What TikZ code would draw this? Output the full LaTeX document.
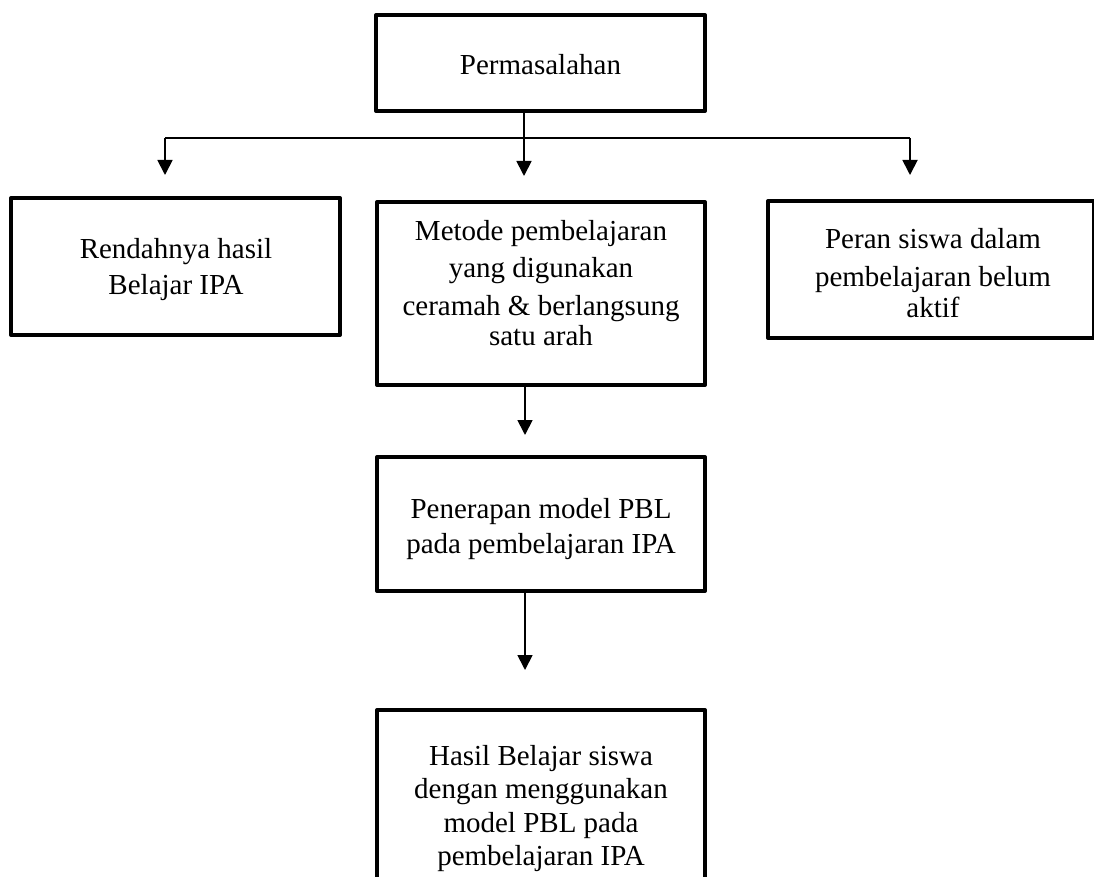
\documentclass[tikz,border=0pt]{standalone}
\usepackage{fontspec}
\setmainfont{Liberation Serif}
\usetikzlibrary{arrows.meta}
\begin{document}
\begin{tikzpicture}[x=1pt,y=-1pt,
  box/.style={draw, line width=4pt, line join=round, inner sep=0pt},
  txt/.style={anchor=north, inner sep=0pt, align=center},
  conn/.style={line width=1.8pt},
  thinconn/.style={line width=1.2pt},
  arr/.style={conn, -{Triangle[length=15pt,width=15pt]}}]
\useasboundingbox (0,0) rectangle (1094,877);
\fill[white] (0,0) rectangle (1094,877);
\clip (0,0) rectangle (1094,877);
% boxes
\node[box, minimum width=329pt, minimum height=96pt] (top) at (540.5,63) {};
\node[box, minimum width=329pt, minimum height=137pt] (left) at (175.5,266.5) {};
\node[box, minimum width=328pt, minimum height=183pt] (mid) at (541,293.5) {};
\node[box, minimum width=326pt, minimum height=137pt] (right) at (931,269.5) {};
\node[box, minimum width=328pt, minimum height=134pt] (pbl) at (541,524) {};
\node[box, minimum width=328pt, minimum height=175pt] (hasil) at (541,797.5) {};
% texts
\node[txt, font=\fontsize{29}{36}\selectfont] (t0) at (540.5,54) {Permasalahan};
\node[txt, font=\fontsize{29}{36}\selectfont] (t1) at (176,238) {Rendahnya hasil\\Belajar IPA};
\node[txt, font=\fontsize{29}{37.5}\selectfont] (t2) at (541,220) {Metode pembelajaran\\yang digunakan\\ceramah \& berlangsung\\[-7pt]satu arah};
\node[txt, font=\fontsize{29}{38}\selectfont] (t3) at (933,228) {Peran siswa dalam\\pembelajaran belum\\[-7pt]aktif};
\node[txt, font=\fontsize{29}{35}\selectfont] (t4) at (541,498) {Penerapan model PBL\\pada pembelajaran IPA};
\node[txt, font=\fontsize{29}{33.5}\selectfont] (t5) at (541,745) {Hasil Belajar siswa\\dengan menggunakan\\model PBL pada\\pembelajaran IPA};
% connectors
\coordinate (j) at (524,138);
\coordinate (aL) at (165,138);
\coordinate (aR) at (910,138);
\coordinate (vx) at (525,0);
\draw[conn] (top.south -| j) -- (j);
\draw[thinconn] (aL) -- (aR);
\draw[arr, shorten >=21pt] (aL) -- (aL |- left.north);
\draw[arr, shorten >=24pt] (j) -- (j |- mid.north);
\draw[arr, shorten >=24pt] (aR) -- (aR |- right.north);
\draw[arr, shorten >=20pt] (mid.south -| vx) -- (pbl.north -| vx);
\draw[arr, shorten >=38pt] (pbl.south -| vx) -- (hasil.north -| vx);
\end{tikzpicture}
\end{document}
